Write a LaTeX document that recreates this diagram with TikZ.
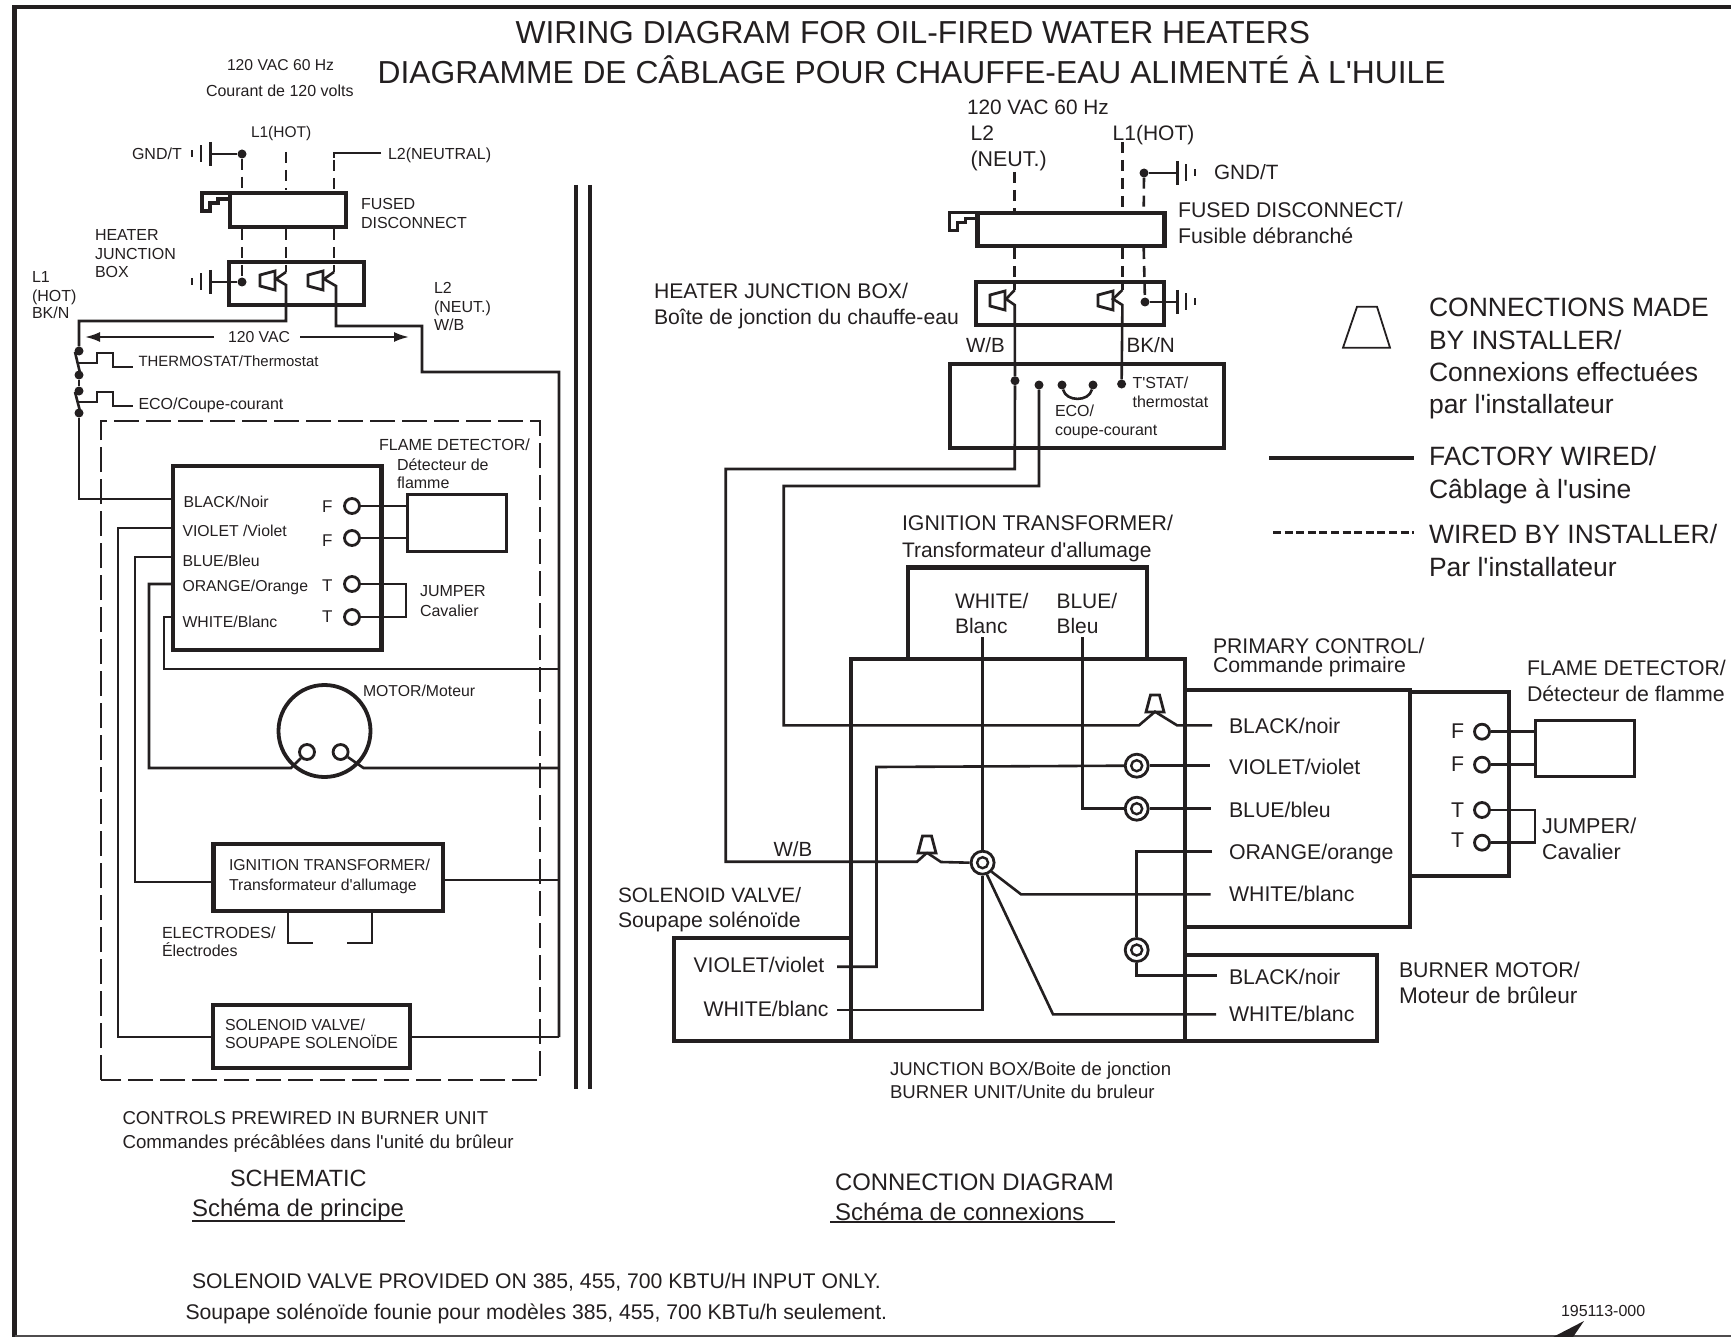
\documentclass[tikz,border=0pt]{standalone}
\usepackage{fontspec}
\newfontfamily\dgfont{Liberation Sans}
\usetikzlibrary{arrows.meta}
\definecolor{ink}{HTML}{231F20}
\newcommand{\lab}[5]{\node[lbl,font=\dgfont\fontsize{#4}{#4}\selectfont] (#1) at (#2,{#3+0.358*#4}) {#5};}
\newcommand{\boxn}[6]{\node[draw=ink,line width=#6,rectangle,inner sep=0pt,minimum width={#4-#2},minimum height={#5-#3}] (#1) at ({(#2+#4)/2},{(#3+#5)/2}) {};}
\newcommand{\gndsym}[3]{\begin{scope}[shift={(#1,#2)},xscale=#3]
\draw[wire,line width=3] (0,-12)--(0,12);
\draw[wire,line width=2.6] (9,-8.5)--(9,8.5);
\draw[wire,line width=2.6] (18,-3.5)--(18,3.5);
\end{scope}}
\newcommand{\conL}[2]{\begin{scope}[shift={(#1,#2)}]
\draw[wire,line width=2.8,line join=miter] (-15,-6)--(0,-10)--(0,9)--(-15,5)--cycle;
\end{scope}}
\newcommand{\conU}[2]{\begin{scope}[shift={(#1,#2)}]
\draw[wire,line width=2.8,line join=miter] (-4.5,0)--(4.5,0)--(9,17)--(-9,17)--cycle;
\end{scope}}
\newcommand{\handle}[2]{\begin{scope}[shift={(#1,#2)}]
\draw[wire,line width=3.6,line join=miter] (0,0)--(-28,0)--(-28,18)--(-20,18)--(-20,10)--(-12,10)--(-12,6)--(0,6);
\end{scope}}
\tikzset{
 lbl/.style={anchor=base west,inner sep=0pt,outer sep=0pt,text=ink},
 wire/.style={draw=ink,line width=2.6,line cap=butt,line join=miter},
 dashw/.style={wire,dash pattern=on 11pt off 7pt},
 dotn/.style={circle,fill=ink,inner sep=0pt,minimum size=9},
 term/.style={circle,draw=ink,fill=white,line width=2.8,inner sep=0pt,minimum size=15},
 ringo/.style={circle,draw=ink,fill=white,line width=2.8,inner sep=0pt,minimum size=23},
 ringi/.style={circle,draw=ink,fill=white,line width=2.4,inner sep=0pt,minimum size=11},
 arr/.style={draw=ink,line width=2.2,-{Latex[length=15pt,width=10pt]}}
}
\begin{document}
\begin{tikzpicture}[x=1pt,y=-1pt]
\useasboundingbox (0,0) rectangle (1731,1337);
% frame
\draw[draw=ink,line width=4.2] (14.5,1337)--(14.5,7)--(1731,7);
\draw[draw=ink!80,line width=1.5] (14.5,1336)--(1731,1336);
\fill[ink] (1584,1321)--(1553,1337)--(1573,1337)--cycle;
% titles
\lab{t1}{515.6}{32}{31.8}{WIRING DIAGRAM FOR OIL-FIRED WATER HEATERS}
\lab{t2}{377.6}{72}{31.8}{DIAGRAMME DE CÂBLAGE POUR CHAUFFE-EAU ALIMENTÉ À L'HUILE}
% ---------- schematic ----------
\lab{a1}{227}{65}{15.7}{120 VAC 60 Hz}
\lab{a2}{206}{91}{16}{Courant de 120 volts}
\lab{a3}{251}{132}{15.5}{L1(HOT)}
\lab{a4}{132}{154}{16}{GND/T}
\lab{a5}{388}{154}{16}{L2(NEUTRAL)}
\lab{a6}{361}{204}{16}{FUSED}
\lab{a7}{361}{223}{16}{DISCONNECT}
\lab{a8}{95}{235}{16}{HEATER}
\lab{a9}{95}{254}{16}{JUNCTION}
\lab{a10}{95}{272}{16}{BOX}
\lab{a11}{32}{277}{16}{L1}
\lab{a12}{32}{296}{16}{(HOT)}
\lab{a13}{32}{313}{16}{BK/N}
\lab{a14}{434}{288}{16}{L2}
\lab{a15}{434}{307}{16}{(NEUT.)}
\lab{a16}{434}{325}{16}{W/B}
\lab{a17}{228}{337}{15.8}{120 VAC}
\lab{a18}{138.5}{361}{14.9}{THERMOSTAT/Thermostat}
\lab{a19}{138.5}{404}{16}{ECO/Coupe-courant}
\lab{a20}{379}{445}{16.1}{FLAME DETECTOR/}
\lab{a21}{397}{465}{16}{Détecteur de}
\lab{a22}{397}{483}{16}{flamme}
\lab{b1}{183.5}{502}{15.8}{BLACK/Noir}
\lab{b2}{182.5}{531}{15.8}{VIOLET /Violet}
\lab{b3}{182.5}{561}{15.8}{BLUE/Bleu}
\lab{b4}{182.5}{586}{15.8}{ORANGE/Orange}
\lab{b5}{182.5}{622}{15.8}{WHITE/Blanc}
\lab{b6}{322}{506}{17}{F}
\lab{b7}{322}{540}{17}{F}
\lab{b8}{322}{585}{17}{T}
\lab{b9}{322}{616}{17}{T}
\lab{b10}{420}{591}{16}{JUMPER}
\lab{b11}{420}{610.5}{16}{Cavalier}
\lab{b12}{363}{690.5}{15.8}{MOTOR/Moteur}
\lab{b13}{229}{865}{15.8}{IGNITION TRANSFORMER/}
\lab{b14}{229}{885}{15.8}{Transformateur d'allumage}
\lab{b15}{162}{933}{16.1}{ELECTRODES/}
\lab{b16}{162}{951}{16}{Électrodes}
\lab{b17}{225}{1025}{15.9}{SOLENOID VALVE/}
\lab{b18}{225}{1043}{15.9}{SOUPAPE SOLENOÏDE}
\lab{b19}{122.5}{1118}{18.65}{CONTROLS PREWIRED IN BURNER UNIT}
\lab{b20}{122.5}{1142}{18.7}{Commandes précâblées dans l'unité du brûleur}
\lab{b21}{230}{1178}{23.5}{SCHEMATIC}
\lab{b22}{192}{1208}{24}{Schéma de principe}
\draw[draw=ink,line width=1.6] (192,1221)--(405,1221);
% boxes
\boxn{fd}{230}{193}{346}{227}{4}
\handle{230}{193}
\boxn{jb}{228.5}{262}{364}{305}{4}
\boxn{ctl}{173}{466}{381.5}{650}{4.2}
\boxn{fl}{407.5}{494}{506}{551}{3}
\boxn{ign}{213.5}{844}{443}{911}{4.2}
\boxn{sol}{213}{1005}{410}{1068}{4.2}
\node[draw=ink,line width=3.8,circle,inner sep=0pt,minimum size=92] (mot) at (324.5,731) {};
% rails, dashed enclosure
\draw[draw=ink,line width=4.6] (576,185)--(576,1089);
\draw[draw=ink,line width=4.6] (590,185)--(590,1089);
\draw[draw=ink,line width=2.5,dash pattern=on 25pt off 7pt] (101,1080)--(101,421)--(540,421)--(540,1080)--cycle;
% terminals
\node[dotn] (g1) at (242,154) {};
\node[dotn] (g2) at (242,282) {};
\node[dotn] (s1) at (79,351) {};
\node[dotn] (s2) at (79,375) {};
\node[dotn] (s3) at (79,391) {};
\node[dotn] (s4) at (79,413) {};
\node[term] (f1) at (352,506) {};
\node[term] (f2) at (352,538) {};
\node[term] (j1) at (352,584) {};
\node[term] (j2) at (352,617) {};
\node[term] (m1) at (307,752) {};
\node[term] (m2) at (340.6,752) {};
% grounds
\gndsym{210}{154}{-1}
\gndsym{210}{282}{-1}
\draw[wire] (g1)--(210,154);
\draw[wire] (g2)--(210,282);
% dashed feeds
\draw[dashw] (g1)--(242,190);
\draw[dashw] (286,152)--(286,190);
\draw[dashw] (381,153)--(334,153)--(334,190);
\draw[wire] (381,153)--(334,153)--(334,158);
\draw[dashw] (242,229)--(g2);
\draw[dashw] (286,229)--(286,272);
\draw[dashw] (334,229)--(334,272);
% connectors in junction box
\conL{275}{281}
\conL{323}{281}
\draw[wire] (286,272)--(276,279)--(286,285)--(286,321)--(79,321)--(s1);
\draw[wire] (334,272)--(324,279)--(336,286)--(336,326)--(422,326)--(422,372)--(559,372)--(559,1037);
% 120 VAC arrows
\draw[arr] (214,337)--(85,337);
\draw[arr] (300,337)--(409,337);
% switches
\draw[wire] (75,352)--(80.5,375);
\draw[wire] (75,392)--(80.5,413);
\draw[wire] (s2)--(s3);
\draw[wire] (77,363)--(97,363)--(97,353)--(113,353)--(113,367)--(133,367);
\draw[wire] (77,402)--(97,402)--(97,392)--(113,392)--(113,406)--(133,406);
% schematic wires
\draw[wire] (s4)--(79,499)--(ctl.west|-0,499);
\draw[wire] (ctl.west|-0,528)--(118,528)--(118,1037)--(sol.west|-0,1037);
\draw[wire] (ctl.west|-0,557)--(135,557)--(135,882)--(ign.west|-0,882);
\draw[wire] (ctl.west|-0,584)--(149,584)--(149,768)--(291,768)--(m1);
\draw[wire] (ctl.west|-0,617)--(164,617)--(164,669)--(559,669);
\draw[wire] (m2)--(363.5,768)--(559,768);
\draw[wire] (ign.east|-0,880)--(559,880);
\draw[wire] (sol.east|-0,1037)--(559,1037);
\draw[wire] (f1)--(fl.west|-f1);
\draw[wire] (f2)--(fl.west|-f2);
\draw[wire] (j1)--(406,584)--(406,617)--(j2);
\draw[wire] (288,911)--(288,943)--(313,943);
\draw[wire] (372,911)--(372,943)--(347,943);
% ---------- connection diagram ----------
\lab{c1}{967}{107}{20.8}{120 VAC 60 Hz}
\lab{c2}{970.6}{133}{21}{L2}
\lab{c3}{970.6}{159}{21.4}{(NEUT.)}
\lab{c4}{1112.7}{133}{21}{L1(HOT)}
\lab{c5}{1214}{172}{20.7}{GND/T}
\lab{c6}{1178}{210}{21.3}{FUSED DISCONNECT/}
\lab{c7}{1178}{236}{21.3}{Fusible débranché}
\lab{c8}{654}{291}{21.2}{HEATER JUNCTION BOX/}
\lab{c9}{654}{317}{21.2}{Boîte de jonction du chauffe-eau}
\lab{c10}{966}{345}{20.5}{W/B}
\lab{c11}{1126.5}{345}{20.7}{BK/N}
\lab{c12}{1132.6}{383}{16}{T'STAT/}
\lab{c13}{1132.6}{402}{16}{thermostat}
\lab{c14}{1055}{411}{16}{ECO/}
\lab{c15}{1055}{430}{16}{coupe-courant}
\lab{c16}{902}{523}{21.3}{IGNITION TRANSFORMER/}
\lab{c17}{902}{550}{21}{Transformateur d'allumage}
\lab{c18}{955}{600.6}{21}{WHITE/}
\lab{c19}{955}{626}{21}{Blanc}
\lab{c20}{1056.5}{600.6}{21}{BLUE/}
\lab{c21}{1056.5}{626}{21}{Bleu}
\lab{c22}{1213}{646}{21.2}{PRIMARY CONTROL/}
\lab{c23}{1213}{665}{21.3}{Commande primaire}
\lab{c24}{1527}{667.7}{21.2}{FLAME DETECTOR/}
\lab{c25}{1527}{694}{21.3}{Détecteur de flamme}
\lab{c26}{1229}{726}{21.3}{BLACK/noir}
\lab{c27}{1229}{766.7}{21.3}{VIOLET/violet}
\lab{c28}{1229}{810}{21.3}{BLUE/bleu}
\lab{c29}{1229}{852}{21.3}{ORANGE/orange}
\lab{c30}{1229}{894}{21.3}{WHITE/blanc}
\lab{c31}{1229}{977}{21.3}{BLACK/noir}
\lab{c32}{1229}{1014}{21.3}{WHITE/blanc}
\lab{c33}{1451}{730.7}{21.3}{F}
\lab{c34}{1451}{764}{21.3}{F}
\lab{c35}{1451}{810}{21.3}{T}
\lab{c36}{1451}{840}{21.3}{T}
\lab{c37}{1542}{825.7}{21.5}{JUMPER/}
\lab{c38}{1542}{851.7}{21.5}{Cavalier}
\lab{c39}{773.5}{849}{20.5}{W/B}
\lab{c40}{618}{895}{20.8}{SOLENOID VALVE/}
\lab{c41}{618}{920}{21.2}{Soupape solénoïde}
\lab{c42}{693.5}{965}{21.2}{VIOLET/violet}
\lab{c43}{703.6}{1009}{21.2}{WHITE/blanc}
\lab{c44}{1399}{970}{21.3}{BURNER MOTOR/}
\lab{c45}{1399}{995}{22.6}{Moteur de brûleur}
\lab{c46}{890}{1069}{18.6}{JUNCTION BOX/Boite de jonction}
\lab{c47}{890}{1092}{18.6}{BURNER UNIT/Unite du bruleur}
\lab{c48}{835}{1182}{23.9}{CONNECTION DIAGRAM}
\lab{c49}{835}{1212}{24}{Schéma de connexions}
\draw[draw=ink,line width=1.6] (830,1222)--(1115,1222);
\lab{c50}{192}{1281}{21.2}{SOLENOID VALVE PROVIDED ON 385, 455, 700 KBTU/H INPUT ONLY.}
\lab{c51}{185.5}{1312}{21.2}{Soupape solénoïde founie pour modèles 385, 455, 700 KBTu/h seulement.}
\lab{c52}{1561}{1311}{16}{195113-000}
% legend
\lab{d1}{1429}{307}{26.5}{CONNECTIONS MADE}
\lab{d2}{1429}{340}{26.5}{BY INSTALLER/}
\lab{d3}{1429}{372}{26.5}{Connexions effectuées}
\lab{d4}{1429}{404}{26.5}{par l'installateur}
\lab{d5}{1429}{456}{26.5}{FACTORY WIRED/}
\lab{d6}{1429}{489}{26.5}{Câblage à l'usine}
\lab{d7}{1429}{534}{26.5}{WIRED BY INSTALLER/}
\lab{d8}{1429}{567}{26.5}{Par l'installateur}
\draw[draw=ink,line width=1.8] (1357,306.7)--(1377,306.7)--(1390,347.7)--(1343,347.7)--cycle;
\draw[wire,line width=3.5] (1269,458)--(1414,458);
\draw[wire,line width=3.5,dash pattern=on 8pt off 3.6pt] (1273,532.7)--(1414,532.7);
% boxes
\boxn{fd2}{977.5}{212.7}{1164.5}{246}{4.2}
\handle{977.5}{212.7}
\boxn{jb2}{976}{282}{1164}{325}{4.2}
\boxn{ts}{950}{364}{1223.7}{447.7}{4.2}
\boxn{ig2}{907.6}{567.5}{1147}{659}{4.2}
\boxn{jn}{851}{659}{1185}{1040.7}{4.2}
\boxn{pc}{1185}{690}{1409.7}{927}{4.2}
\boxn{bm}{1185}{955}{1377}{1040.7}{4.2}
\boxn{sv}{674}{937.7}{851}{1040.7}{4.2}
\boxn{fc}{1410}{691.7}{1509}{876}{4.2}
\boxn{fl2}{1535}{720}{1634}{776.7}{3}
% terminals
\node[dotn] (h1) at (1144,173) {};
\node[dotn] (h2) at (1145,302) {};
\node[dotn] (h3) at (1015,380.7) {};
\node[dotn] (h4) at (1039,385) {};
\node[dotn] (h5) at (1062,385) {};
\node[dotn] (h6) at (1093,385) {};
\node[dotn] (h7) at (1121.6,384) {};
\node[ringo] (r1) at (1136.7,765.7) {};
\node[ringi] at (r1) {};
\node[ringo] (r2) at (1136.7,808.7) {};
\node[ringi] at (r2) {};
\node[ringo] (r3) at (982.6,862.7) {};
\node[ringi] at (r3) {};
\node[ringo] (r4) at (1136.7,950) {};
\node[ringi] at (r4) {};
\node[term] (q1) at (1482,731.7) {};
\node[term] (q2) at (1482,764.7) {};
\node[term] (q3) at (1482,810) {};
\node[term] (q4) at (1482,842.7) {};
% grounds
\gndsym{1177}{173}{1}
\gndsym{1177}{302}{1}
\draw[wire] (h1)--(1177,173);
\draw[wire] (h2)--(1177,302);
% dashed feeds
\draw[dashw] (1014.7,172)--(1014.7,213);
\draw[dashw] (1122.4,142)--(1122.4,213);
\draw[dashw] (h1)--(1143.7,213);
\draw[dashw] (1014.7,248)--(1014.7,290);
\draw[dashw] (1122.4,248)--(1122.4,290);
\draw[dashw] (1143.7,248)--(h2);
\conL{1005}{301}
\conL{1113}{301}
% wires
\draw[wire] (1014.7,290)--(1006,299)--(1014.7,305)--(h3);
\draw[wire] (h3)--(1014.7,469)--(725.7,469)--(725.7,861.7)--(917,861.7)--(927,852.7);
\draw[wire] (927,852.7)--(941,862)--(r3.west);
\draw[wire] (1122.4,290)--(1113,299)--(1122.4,305)--(h7);
\draw[wire] (h4)--(1039,486)--(783.7,486)--(783.7,725.3)--(1139,725.3)--(1155,711.7)--(1177,725.3)--(1212,725.3);
\draw[wire] (h5) .. controls (1066,402) and (1089,402) .. (h6);
\conU{927}{836}
\conU{1155}{695}
\draw[wire] (982.6,637)--(r3.north);
\draw[wire] (r3.south)--(982.6,1010)--(837,1010);
\draw[wire] (1082.6,637)--(1082.6,808.7)--(r2.west);
\draw[wire] (r1.east)--(1209.7,765.7);
\draw[wire] (r1.west)--(876.5,767)--(876.5,966.7)--(837,966.7);
\draw[wire] (r2.east)--(1210.7,808.7);
\draw[wire] (1212,851.7)--(1136.7,851.7)--(r4.north);
\draw[wire] (r4.south)--(1136.7,975.3)--(1217,975.3);
\draw[wire] (r3.-45)--(1021,894.3)--(1210.7,894.3);
\draw[wire] (r3.-70)--(1053,1014.3)--(1216,1014.3);
\draw[wire] (q1)--(fl2.west|-q1);
\draw[wire] (q2)--(fl2.west|-q2);
\draw[wire] (q3)--(1535,810)--(1535,842.7)--(q4);
\end{tikzpicture}
\end{document}
